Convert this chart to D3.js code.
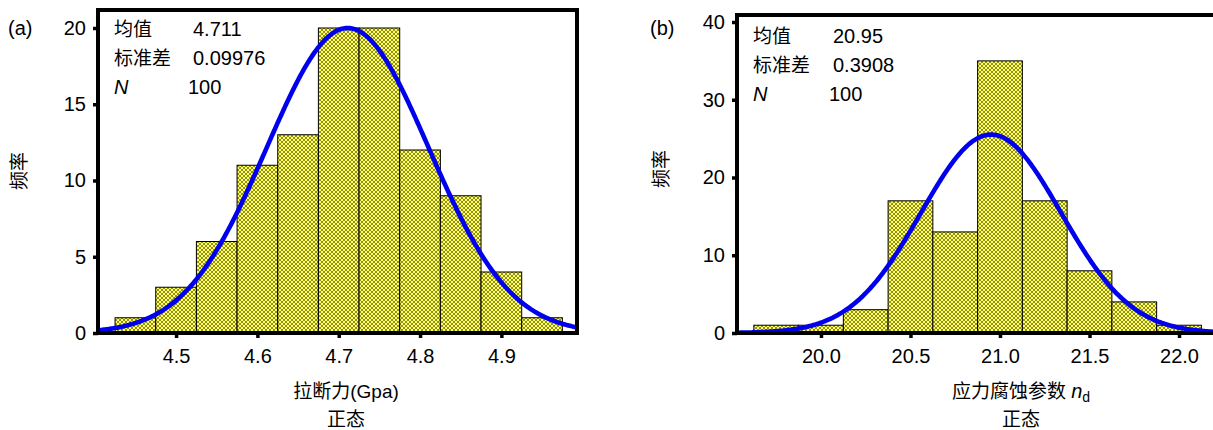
<!DOCTYPE html>
<html><head><meta charset="utf-8">
<script src="https://cdn.jsdelivr.net/npm/d3@7"></script>
<style>
html,body{margin:0;padding:0;background:#fff;}
svg{display:block;}
text{font-family:"Liberation Sans",Arial,"Noto Sans CJK SC",sans-serif;font-size:20px;fill:#000;}
</style></head>
<body>
<svg id="chart" width="1213" height="430"></svg>
<script>
// ---- Data: panel (a) ----
const binCentersA = [4.45,4.50,4.55,4.60,4.65,4.70,4.75,4.80,4.85,4.90,4.95];
const countsA     = [1,3,6,11,13,20,20,12,9,4,1];
const binWidthA   = 0.05;
const xTicksA     = [4.5,4.6,4.7,4.8,4.9];
const xTickLabelsA= ["4.5","4.6","4.7","4.8","4.9"];
const yTicksA     = [0,5,10,15,20];
const statsA      = {mean:4.711, sd:0.09976, n:100};
const statLabelsA = ["4.711","0.09976","100"];

// ---- Data: panel (b) ----
const binCentersB = [19.75,20.00,20.25,20.50,20.75,21.00,21.25,21.50,21.75,22.00];
const countsB     = [1,1,3,17,13,35,17,8,4,1];
const binWidthB   = 0.25;
const xTicksB     = [20.0,20.5,21.0,21.5,22.0];
const xTickLabelsB= ["20.0","20.5","21.0","21.5","22.0"];
const yTicksB     = [0,10,20,30,40];
const statsB      = {mean:20.95, sd:0.3908, n:100};
const statLabelsB = ["20.95","0.3908","100"];

const svg = d3.select("#chart");
const defs = svg.append("defs");
const pat = defs.append("pattern").attr("id","hatch").attr("patternUnits","userSpaceOnUse")
  .attr("width",4).attr("height",4);
pat.append("rect").attr("width",4).attr("height",4).attr("fill","#ffff55");
pat.append("path").attr("d","M0,0L4,4M4,0L0,4M-1,3L1,5M3,-1L5,1M-1,1L1,-1M3,5L5,3")
  .attr("stroke","#33330c").attr("stroke-width",0.55).attr("fill","none");

function panel(o){
  const g = svg.append("g");
  const x = d3.scaleLinear().domain(o.xDomain).range([o.left,o.right]);
  const y = d3.scaleLinear().domain(o.yDomain).range([o.bottom,o.top]);
  const cid = "clip"+o.id;
  defs.append("clipPath").attr("id",cid).append("rect")
    .attr("x",o.left).attr("y",o.top).attr("width",o.right-o.left).attr("height",o.bottom-o.top);
  const pg = g.append("g").attr("clip-path",`url(#${cid})`);
  pg.selectAll("rect.bar").data(o.centers).enter().append("rect")
    .attr("x",d=>x(d-o.bw/2)).attr("width",d=>x(d+o.bw/2)-x(d-o.bw/2))
    .attr("y",(d,i)=>y(o.counts[i])).attr("height",(d,i)=>y(0)-y(o.counts[i]))
    .attr("fill","url(#hatch)").attr("stroke","#000").attr("stroke-width",1);
  const s=o.stats;
  const xs = d3.range(0,401).map(i=>o.xDomain[0]+(o.xDomain[1]-o.xDomain[0])*i/400);
  const f = v => s.n*o.bw/(s.sd*Math.sqrt(2*Math.PI))*Math.exp(-0.5*((v-s.mean)/s.sd)**2);
  pg.append("path").datum(xs)
    .attr("d",d3.line().x(v=>x(v)).y(v=>y(f(v))))
    .attr("fill","none").attr("stroke","#0000ee").attr("stroke-width",4.6);
  g.append("rect").attr("x",o.left).attr("y",o.top).attr("width",o.right-o.left).attr("height",o.bottom-o.top)
    .attr("fill","none").attr("stroke","#000").attr("stroke-width",4);
  const ya = g.append("g").attr("transform",`translate(${o.left},0)`)
    .call(d3.axisLeft(y).tickValues(o.yTicks).tickSize(5).tickPadding(7).tickFormat(d3.format("d")));
  ya.select(".domain").remove();
  ya.selectAll("line").attr("stroke","#000").attr("stroke-width",3.5);
  ya.selectAll("text").style("font-size","20px").attr("fill","#000");
  const xa = g.append("g").attr("transform",`translate(0,${o.bottom})`)
    .call(d3.axisBottom(x).tickValues(o.xTicks).tickSize(5).tickPadding(11).tickFormat((d,i)=>o.xTickLabels[i]));
  xa.select(".domain").remove();
  xa.selectAll("line").attr("stroke","#000").attr("stroke-width",3.5);
  xa.selectAll("text").style("font-size","20px").attr("fill","#000");
  g.append("text").attr("x",o.labelX).attr("y",35).text(o.label);
  g.append("text").attr("transform",`translate(${o.yTitleX},${o.yTitleY}) rotate(-90)`)
    .attr("text-anchor","middle").attr("dominant-baseline","central").style("font-size","19px").text("频率");
  const rows = ["均值","标准差","N"];
  rows.forEach((r,i)=>{
    const yy = o.statY + i*o.statDy;
    const t = g.append("text").attr("x",o.left+16).attr("y",yy).text(r);
    if(r==="N") t.style("font-style","italic"); else t.style("font-size","19px");
    g.append("text").attr("x",o.left+(i===2?o.nValDx:o.statValDx)).attr("y",yy).text(o.statLabels[i]);
  });
  const xc = o.xTitleX;
  const t1 = g.append("text").attr("x",xc).attr("y",398).attr("text-anchor","middle").style("font-size","19px");
  o.xTitle(t1);
  g.append("text").attr("x",xc).attr("y",426).attr("text-anchor","middle").style("font-size","19px").text("正态");
}

panel({id:"a", left:98, right:577, top:10, bottom:333,
  xDomain:[4.404,4.993], yDomain:[0,21.18],
  centers:binCentersA, counts:countsA, bw:binWidthA, stats:statsA,
  xTicks:xTicksA, xTickLabels:xTickLabelsA, yTicks:yTicksA,
  label:"(a)", labelX:8, yTitleX:19, yTitleY:171,
  statY:36, statDy:29, statValDx:95, nValDx:90, statLabels:statLabelsA,
  xTitleX:346, xTitle:t=>t.text("拉断力(Gpa)")});

panel({id:"b", left:737, right:1215, top:15, bottom:333,
  xDomain:[19.531,22.201], yDomain:[0,40.9],
  centers:binCentersB, counts:countsB, bw:binWidthB, stats:statsB,
  xTicks:xTicksB, xTickLabels:xTickLabelsB, yTicks:yTicksB,
  label:"(b)", labelX:650, yTitleX:661, yTitleY:169,
  statY:43, statDy:29, statValDx:96, nValDx:92, statLabels:statLabelsB,
  xTitleX:1021, xTitle:t=>{
    t.append("tspan").text("应力腐蚀参数 ");
    t.append("tspan").style("font-style","italic").style("font-size","20px").text("n");
    t.append("tspan").attr("dy",4).style("font-size","14px").text("d");
  }});
</script>
</body></html>
